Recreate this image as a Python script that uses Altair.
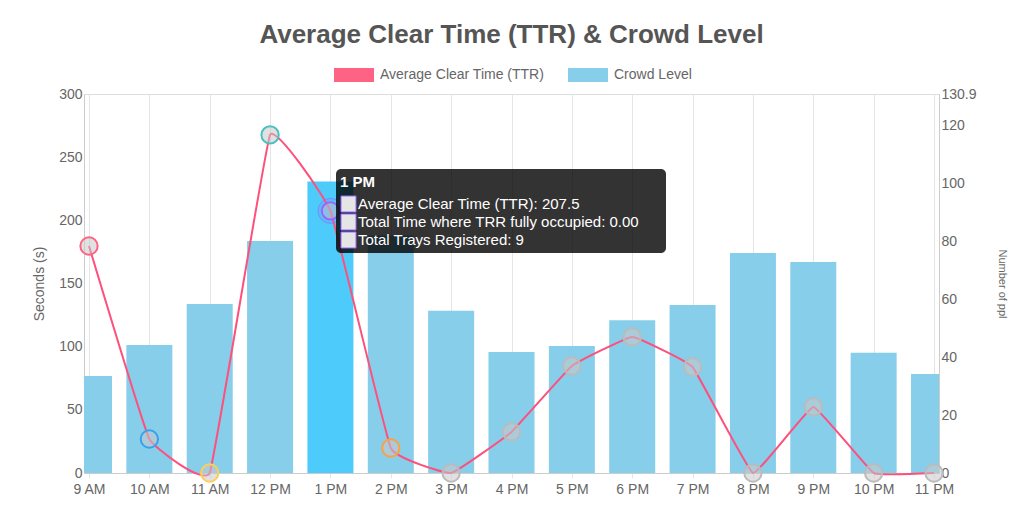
import json
import pandas as pd
import altair as alt

hours = ["9 AM", "10 AM", "11 AM", "12 PM", "1 PM", "2 PM", "3 PM", "4 PM",
         "5 PM", "6 PM", "7 PM", "8 PM", "9 PM", "10 PM", "11 PM"]
clear_time = [179.7, 26.9, 0, 267.6, 207.5, 19.8, 0, 32.5, 84.7, 107.7, 83.9, 0, 52.3, 0, 0]
crowd = [33.5, 44.2, 58.4, 80.1, 100.7, 82, 56, 41.8, 43.9, 52.8, 58, 76, 72.9, 41.5, 34.2]
point_stroke = ["#ff6384", "#36a2eb", "#ffce56", "#4bc0c0", "#9966ff", "#ff9f40",
                "#bbbbbb", "#bbbbbb", "#bbbbbb", "#bbbbbb", "#bbbbbb", "#bbbbbb",
                "#bbbbbb", "#bbbbbb", "#bbbbbb"]

df = pd.DataFrame({"i": range(len(hours)), "hour": hours, "ttr": clear_time,
                   "crowd": crowd, "stroke": point_stroke})
df["hl"] = df["hour"] == "1 PM"

FONT = "Liberation Sans"
label_expr = json.dumps(hours) + "[datum.value]"
xenc = alt.X("i:Q", scale=alt.Scale(domain=[0, 14], nice=False, zero=False),
             axis=alt.Axis(values=list(range(15)), labelExpr=label_expr, title=None,
                           grid=True, gridColor="#e5e5e5", domainColor="#cccccc",
                           tickColor="#e5e5e5", labelColor="#666", labelFontSize=14,
                           labelPadding=4))

bars = alt.Chart(df).mark_bar(width=46, clip=True).encode(
    x=xenc,
    y=alt.Y("crowd:Q", scale=alt.Scale(domain=[0, 130.9], nice=False),
            axis=alt.Axis(orient="right", values=[0, 20, 40, 60, 80, 100, 120, 130.9],
                          format=".1~f",
                          title="Number of ppl", titleFontSize=11, titleFontWeight="normal",
                          titleColor="#666", labelColor="#666", labelFontSize=14,
                          grid=False, domainColor="#cccccc", ticks=False, titleAngle=90,
                          titlePadding=20)),
    color=alt.condition("datum.hl", alt.value("#4dcbfb"), alt.value("#87ceeb")),
)

yl = alt.Y("ttr:Q", scale=alt.Scale(domain=[0, 300], nice=False),
           axis=alt.Axis(orient="left", values=[0, 50, 100, 150, 200, 250, 300],
                         title="Seconds (s)", titleFontSize=14, titleFontWeight="normal",
                         titleColor="#666", labelColor="#666", labelFontSize=14,
                         grid=False, domainColor="#cccccc", ticks=False, titlePadding=12))

line = alt.Chart(df).mark_line(interpolate="cardinal", tension=0.75, color="#ff4f7b",
                               strokeWidth=2).encode(x=xenc, y=yl)
pts = alt.Chart(df).mark_circle(size=300, opacity=1, strokeWidth=2).encode(
    x=xenc, y=yl,
    fill=alt.value("rgba(200,200,200,0.55)"),
    stroke=alt.Stroke("stroke:N", scale=None),
)
hover = alt.Chart(df[df["hl"]]).mark_circle(size=620, strokeWidth=1, stroke="#9966ff",
                                             fill="rgba(153,102,255,0.15)").encode(x=xenc, y=yl)

one = alt.Chart(pd.DataFrame({"a": [0]}))
tip_box = one.mark_rect(color="black", opacity=0.8, cornerRadius=5).encode(
    x=alt.value(252), x2=alt.value(582), y=alt.value(75), y2=alt.value(159))
tip_title = one.mark_text(text="1 PM", font=FONT, fontSize=15, fontWeight="bold",
                          color="white", align="left", baseline="middle").encode(
    x=alt.value(256), y=alt.value(88))
tip_lines = ["Average Clear Time (TTR): 207.5", "Total Time where TRR fully occupied: 0.00",
             "Total Trays Registered: 9"]
tips = []
for k, t in enumerate(tip_lines):
    yy = 110 + k * 18
    tips.append(one.mark_rect(fill="#e5e5e5", stroke="#9966ff", strokeWidth=1).encode(
        x=alt.value(257), x2=alt.value(272), y=alt.value(yy - 8), y2=alt.value(yy + 8)))
    tips.append(one.mark_text(text=t, font=FONT, fontSize=15, color="white",
                              align="left", baseline="middle").encode(
        x=alt.value(274), y=alt.value(yy)))

# legend
leg = [
    one.mark_rect(fill="#ff6384").encode(x=alt.value(250), x2=alt.value(290),
                                         y=alt.value(-26), y2=alt.value(-12)),
    one.mark_text(text="Average Clear Time (TTR)", font=FONT, fontSize=14, color="#666",
                  align="left", baseline="middle").encode(x=alt.value(296), y=alt.value(-19)),
    one.mark_rect(fill="#87ceeb").encode(x=alt.value(484), x2=alt.value(524),
                                         y=alt.value(-26), y2=alt.value(-12)),
    one.mark_text(text="Crowd Level", font=FONT, fontSize=14, color="#666",
                  align="left", baseline="middle").encode(x=alt.value(530), y=alt.value(-19)),
]

left = alt.layer(line, pts, hover)
chart = (
    alt.layer(bars, left, tip_box, tip_title, *tips, *leg)
    .resolve_scale(y="independent")
    .properties(width=855, height=379, autosize="none",
                padding={"left": 76, "top": 86, "right": 77, "bottom": 30},
                title=alt.TitleParams("Average Clear Time (TTR) & Crowd Level", fontSize=26,
                                      font=FONT, color="#555", fontWeight="bold",
                                      anchor="middle", offset=20))
    .configure_view(stroke=None)
    .configure(font=FONT)
)

chart.save("out.html", embed_options={"renderer": "svg", "actions": False})
